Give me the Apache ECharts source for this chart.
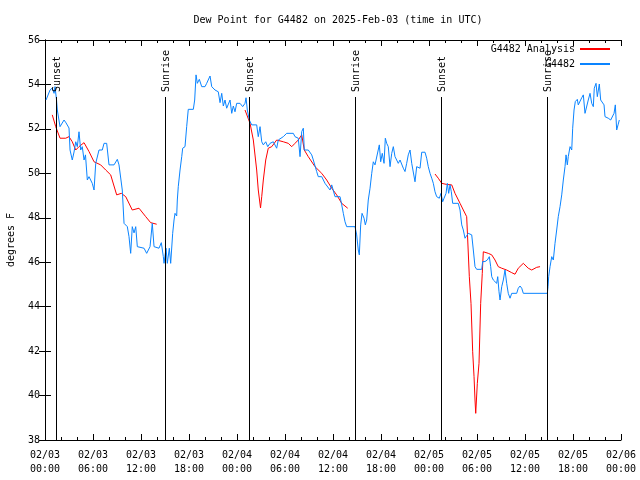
<!DOCTYPE html>
<html>
<head>
<meta charset="utf-8">
<script src="https://cdn.jsdelivr.net/npm/echarts@6/dist/echarts.min.js"></script>
<style>html,body{margin:0;padding:0;background:#fff}#c{width:640px;height:480px}</style>
</head>
<body>
<div id="c"></div>
<script>
// Hours since 2025-02-03 00:00 UTC
var blueHours = [0.13,0.25,0.63,0.91,1.13,1.25,1.44,1.54,1.69,1.88,2.13,2.38,2.63,3.0,3.13,3.41,3.63,3.84,4.04,4.25,4.46,4.66,4.88,5.06,5.29,5.5,5.91,6.13,6.34,6.75,7.16,7.38,7.71,8.0,8.63,9.04,9.25,9.66,9.88,10.29,10.5,10.71,10.91,11.13,11.34,11.54,12.38,12.71,13.13,13.41,13.63,14.25,14.54,14.79,14.88,15.13,15.29,15.54,15.71,15.96,16.13,16.25,16.46,16.54,16.66,16.88,17.09,17.21,17.5,17.71,17.91,18.54,18.71,18.88,19.04,19.29,19.59,20.0,20.21,20.63,20.84,21.25,21.66,21.88,22.09,22.29,22.5,22.71,23.13,23.34,23.54,23.75,23.96,24.38,24.71,25.0,25.13,25.29,25.54,25.84,26.46,26.66,26.88,27.09,27.29,27.59,27.84,28.13,28.54,28.96,29.16,29.79,30.21,31.04,31.25,31.66,31.88,32.09,32.29,32.41,32.91,33.34,33.54,33.96,34.16,34.59,35.0,35.63,35.84,36.25,36.88,37.09,37.29,37.5,37.71,38.75,38.96,39.16,39.29,39.46,39.63,39.88,40.04,40.21,40.41,40.63,40.84,41.04,41.25,41.46,41.79,41.96,42.16,42.38,42.54,42.71,42.91,43.13,43.34,43.54,43.75,43.96,44.16,44.38,44.59,44.79,45.0,45.21,45.41,45.63,45.84,46.04,46.25,46.46,46.66,46.88,47.09,47.5,47.71,47.91,48.13,48.34,48.54,48.75,48.96,49.29,49.5,49.71,49.88,50.13,50.29,50.46,50.63,50.79,50.96,51.66,51.88,52.09,52.29,52.5,52.71,52.91,53.13,53.34,53.54,53.75,53.96,54.59,54.71,55.0,55.29,55.54,55.71,55.84,56.04,56.25,56.46,56.59,56.75,56.88,57.09,57.29,57.5,57.71,57.91,58.13,58.34,58.96,59.16,59.38,59.59,59.79,62.79,62.88,62.96,63.13,63.34,63.54,63.75,63.96,64.16,64.38,64.59,64.79,65.0,65.13,65.29,65.41,65.63,65.84,65.96,66.13,66.29,66.54,66.66,66.88,67.09,67.29,67.5,67.71,67.91,68.13,68.34,68.54,68.66,68.88,69.04,69.29,69.46,69.66,69.88,70.0,70.41,70.71,70.96,71.13,71.29,71.46,71.63,71.79];
var blueValues = [53.3,53.3,53.75,53.84,53.6,53.9,53.3,52.85,52.76,52.1,52.18,52.4,52.27,52.04,51.05,50.6,50.96,51.42,51.2,51.87,51.05,51.2,50.6,50.83,49.7,49.85,49.55,49.25,50.45,51.05,51.05,51.35,51.35,50.38,50.38,50.63,50.38,49.25,47.75,47.6,47.15,46.4,47.6,47.32,47.6,46.7,46.63,46.4,46.7,47.75,46.7,46.63,46.88,46.25,45.95,46.63,45.95,46.63,45.95,47.3,47.9,48.2,48.08,48.8,49.4,50.15,50.75,51.13,51.2,52.1,52.88,52.88,53.3,54.43,54.05,54.23,53.9,53.9,54.05,54.38,53.9,53.75,53.67,53.18,53.6,53.03,53.3,52.93,53.3,52.7,53.03,52.77,53.15,53.15,53.0,53.15,53.4,52.85,52.4,52.18,52.18,51.65,52.1,51.42,51.28,51.42,51.2,51.35,51.42,51.13,51.5,51.65,51.8,51.8,51.65,51.58,50.75,51.88,52.03,51.05,51.05,50.83,50.6,50.08,49.85,49.85,49.55,49.25,49.48,48.95,48.95,48.58,48.2,47.82,47.6,47.6,47.23,46.55,46.33,47.68,48.2,47.98,47.68,47.9,48.8,49.33,50.0,50.52,50.38,50.45,51.28,50.52,50.9,50.45,51.58,51.35,51.2,50.3,50.9,51.2,50.75,50.6,50.45,50.6,50.68,50.23,50.08,50.45,50.83,51.05,50.45,50.45,49.62,50.3,50.38,50.23,50.95,50.95,50.68,50.3,50.0,49.78,49.55,49.17,48.95,48.88,49.1,48.72,48.88,49.1,49.55,49.1,49.48,49.17,48.65,48.65,48.35,47.68,47.45,47.08,47.0,47.3,47.38,47.23,46.55,45.8,45.68,45.68,46.03,46.03,46.1,46.25,45.8,45.35,45.2,45.2,45.05,45.35,44.67,44.3,44.9,45.2,45.65,45.05,44.6,44.38,44.6,44.6,44.83,44.93,44.83,44.6,44.6,44.9,45.35,45.8,46.25,46.1,46.85,47.45,48.05,48.5,49.03,49.7,50.3,50.83,50.38,50.75,51.2,51.05,52.03,52.85,53.23,53.33,53.08,53.08,53.4,53.53,52.7,52.7,53.3,53.6,53.15,53.0,53.83,54.05,53.45,54.02,53.3,53.23,53.08,52.55,52.48,52.4,52.32,52.7,53.08,51.95,52.18,52.4];

var redHours = [0.91,1.34,1.88,2.59,3.0,3.41,3.84,4.25,4.88,5.5,6.13,6.96,7.59,8.21,8.96,9.54,10.09,10.91,11.75,12.59,13.21,13.96,
  19.0,
  25.0,25.63,26.04,26.46,26.66,26.94,27.09,27.29,27.59,27.91,28.34,28.96,29.79,30.41,30.84,31.25,31.66,32.09,32.41,32.91,33.75,34.59,35.21,35.84,36.46,37.09,37.84,
  43.0,
  48.75,49.16,49.59,50.21,50.84,51.25,51.88,52.29,52.71,52.84,53.04,53.25,53.46,53.63,53.75,53.84,54.04,54.25,54.46,54.66,54.79,55.41,55.84,56.25,56.66,57.09,57.71,58.34,58.75,59.16,59.79,60.41,60.84,61.46,61.88];
var redValues = [52.63,52.1,51.58,51.58,51.65,51.42,51.05,51.2,51.38,50.98,50.52,50.38,50.15,49.93,49.03,49.1,48.95,48.35,48.43,48.05,47.78,47.71,
  null,
  52.85,52.25,51.5,50.15,49.25,48.44,48.95,49.7,50.6,51.13,51.2,51.5,51.42,51.35,51.2,51.35,51.5,51.73,51.05,50.75,50.3,50.0,49.7,49.33,49.03,48.65,48.43,
  null,
  49.97,49.78,49.55,49.5,49.48,49.1,48.65,48.35,48.05,47.0,45.35,44.15,41.97,40.85,39.8,39.2,40.55,41.45,44.15,45.5,46.47,46.4,46.33,46.1,45.8,45.73,45.65,45.53,45.46,45.73,45.95,45.73,45.65,45.77,45.8];

var sunHours = [1.38, 14.94, 25.44, 38.81, 49.44, 62.81];
var sunLabels = ['Sunset', 'Sunrise', 'Sunset', 'Sunrise', 'Sunset', 'Sunrise'];
var sunLineTop = 53.43;

var yTicks = [38, 40, 42, 44, 46, 48, 50, 52, 54, 56];

var FONT = 'DejaVu Sans Mono';
var blueData = blueHours.map(function (h, i) { return [h, blueValues[i]]; });
var redData = redHours.map(function (h, i) { return [h, redValues[i] === null ? '-' : redValues[i]]; });
var sunData = sunHours.map(function (h, i) { return [h, sunLineTop, sunLabels[i]]; });

function pad(n) { return (n < 10 ? '0' : '') + n; }
function xLabel(v) {
  var day = 3 + Math.floor(v / 24 + 1e-9);
  var hr = Math.round(v - (day - 3) * 24);
  return '02/' + pad(day) + '\n' + pad(hr) + ':00';
}

var axisCommon = {
  axisLine: { show: true, lineStyle: { color: '#000', width: 1 } },
  axisTick: { show: true, inside: true, length: 6, lineStyle: { color: '#000' } },
  minorTick: { show: true, splitNumber: 3, length: 3, lineStyle: { color: '#000' } },
  splitLine: { show: false }
};

var chart = echarts.init(document.getElementById('c'), null, { renderer: 'canvas' });
chart.setOption({
  animation: false,
  backgroundColor: '#fff',
  textStyle: { fontFamily: FONT },
  title: {
    text: 'Dew Point for G4482 on 2025-Feb-03 (time in UTC)',
    left: 333, top: 10, textAlign: 'center',
    textStyle: { fontFamily: FONT, fontSize: 10, fontWeight: 'normal', color: '#000' }
  },
  legend: {
    orient: 'vertical', right: 25, top: 39, align: 'right',
    itemWidth: 30, itemHeight: 2, itemGap: 5, icon: 'rect',
    textStyle: { fontFamily: FONT, fontSize: 10, color: '#000' },
    data: ['G4482 Analysis', 'G4482']
  },
  grid: { left: 45, right: 19, top: 40, bottom: 40, containLabel: false, outerBoundsMode: 'none' },
  xAxis: [
    Object.assign({}, axisCommon, {
      type: 'value', position: 'bottom', min: 0, max: 72, interval: 6,
      axisLabel: { formatter: xLabel, fontFamily: FONT, fontSize: 10, color: '#000', lineHeight: 14, margin: 8 }
    }),
    Object.assign({}, axisCommon, {
      type: 'value', position: 'top', min: 0, max: 72, interval: 6,
      axisLabel: { show: false }
    })
  ],
  yAxis: [
    Object.assign({}, axisCommon, {
      type: 'value', position: 'left', min: 38, max: 56, interval: 2,
      minorTick: { show: false },
      name: 'degrees F', nameLocation: 'middle', nameGap: 29, nameRotate: 90,
      nameTextStyle: { fontFamily: FONT, fontSize: 10, color: '#000' },
      axisLabel: { fontFamily: FONT, fontSize: 10, color: '#000', margin: 5,
        formatter: function (v) { return yTicks.indexOf(v) >= 0 ? String(v) : ''; } }
    }),
    Object.assign({}, axisCommon, {
      type: 'value', position: 'right', min: 38, max: 56, interval: 2,
      minorTick: { show: false },
      axisLabel: { show: false }
    })
  ],
  series: [
    {
      name: 'G4482 Analysis', type: 'line', data: redData, showSymbol: false, symbol: 'none',
      connectNulls: false, lineStyle: { color: '#ff0000', width: 1 }, itemStyle: { color: '#ff0000' }, z: 3
    },
    {
      name: 'G4482', type: 'line', data: blueData, showSymbol: false, symbol: 'none',
      lineStyle: { color: '#0a84ff', width: 1 }, itemStyle: { color: '#0a84ff' }, z: 4
    },
    {
      name: 'sun', type: 'custom', data: sunData, z: 5, silent: true,
      renderItem: function (params, api) {
        var x = api.value(0);
        var p1 = api.coord([x, api.value(1)]);
        var p2 = api.coord([x, 38]);
        var px = Math.round(p1[0]) + 0.5;
        return {
          type: 'group',
          children: [
            { type: 'line', shape: { x1: px, y1: Math.round(p1[1]), x2: px, y2: p2[1] },
              style: { stroke: '#000', lineWidth: 1 } },
            { type: 'text', x: px + 1, y: Math.round(p1[1]) - 5, rotation: Math.PI / 2,
              style: { text: sunLabels[params.dataIndex], x: 0, y: 0, align: 'left', verticalAlign: 'middle',
                font: '10px ' + FONT, fill: '#000' } }
          ]
        };
      }
    }
  ]
});
</script>
</body>
</html>
